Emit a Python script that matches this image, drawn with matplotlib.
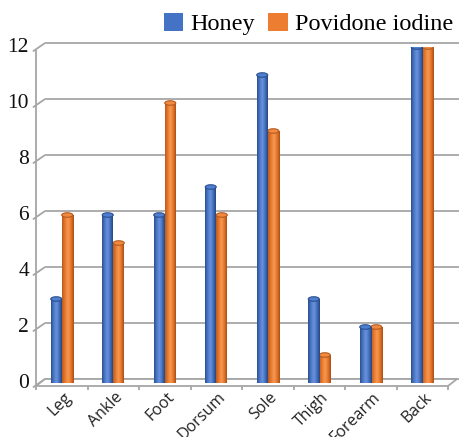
import numpy as np
import matplotlib
matplotlib.use("Agg")
import matplotlib.pyplot as plt
from matplotlib.colors import LinearSegmentedColormap
from matplotlib.patches import Ellipse, Polygon, Patch

# wound sites and counts per dressing
sites = ["Leg", "Ankle", "Foot", "Dorsum", "Sole", "Thigh", "Forearm", "Back"]
honey = [3, 6, 6, 7, 11, 3, 2, 12]
povidone = [6, 5, 10, 6, 9, 1, 2, 12]
yticks = [0, 2, 4, 6, 8, 10, 12]

W, H = 459, 437
fig = plt.figure(figsize=(W / 100, H / 100), dpi=100)
fig.patch.set_facecolor("white")

# axes box = front face of the 3d plot
x_left, x_right, y_zero, y_top = 36, 448, 383, 47
ax = fig.add_axes([x_left / W, (H - y_zero) / H, (x_right - x_left) / W, (y_zero - y_top) / H])
ax.set_xlim(-0.5, 7.5)
ax.set_ylim(0, 12)
ax.axis("off")

ux = (x_right - x_left) / 8.0      # px per category
uy = (y_zero - y_top) / 12.0       # px per unit
dxb, dyb = 9 / ux, 4 / uy          # back wall offset
dyf = -3 / uy                      # front edge offset
grid = "#a6a6a6"
kw = dict(color=grid, lw=1.3, clip_on=False, solid_capstyle="butt")

# back wall gridlines
x_far = (W - x_left) / ux - 0.5
for v in yticks:
    ax.plot([-0.5 + dxb, x_far], [v + dyb, v + dyb], zorder=1, **kw)
    ax.plot([-0.5 - 0.06, -0.5 + dxb], [v + dyf - 0.05, v + dyb], zorder=1, **kw)

# floor and front axis
floor = Polygon([(-0.5, dyf), (7.5, dyf), (7.5 + dxb, dyb), (-0.5 + dxb, dyb)],
                closed=True, facecolor="white", edgecolor=grid, lw=1.3, clip_on=False, zorder=1)
ax.add_patch(floor)
ax.plot([-0.5, -0.5], [dyf, 12 + dyf], zorder=1, **kw)
for k in range(9):
    ax.plot([-0.5 + k, -0.5 + k], [dyf, dyf - 4 / uy], zorder=1, **kw)

for v in yticks:
    ax.text(-0.5 - 7 / ux, v, str(v), ha="right", va="center", fontsize=15.5,
            family="Liberation Serif", color="#111111")

for i, s in enumerate(sites):
    ax.text(i + 0.14, dyf - 9 / uy, s, rotation=45, rotation_mode="anchor",
            ha="right", va="center", fontsize=11.5, family="Open Sans", color="#222222")

blue_cm = LinearSegmentedColormap.from_list("b", ["#2c4f8f", "#4a78c8", "#6a93dc", "#4470c0", "#27457d"])
orng_cm = LinearSegmentedColormap.from_list("o", ["#b85a1c", "#e8782c", "#f59a55", "#e8772a", "#a94f16"])
grad = np.linspace(0, 1, 64)[None, :]
bw = 11 / ux
eh = 4.5 / uy


def cylinder(xc, v, cmap, top, edge, z):
    x0, x1 = xc - bw / 2, xc + bw / 2
    ax.add_patch(Ellipse((xc, 0), bw, eh, facecolor=edge, edgecolor="none", zorder=z))
    ax.imshow(grad, cmap=cmap, extent=[x0, x1, 0, v], aspect="auto", zorder=z + 0.1,
              interpolation="bilinear")
    ax.add_patch(Ellipse((xc, v), bw, eh, facecolor=top, edgecolor=edge, lw=0.8, zorder=z + 0.2))


for i in range(len(sites)):
    cylinder(i + 0.107, povidone[i], orng_cm, "#f08a40", "#b55a1e", 3)
    cylinder(i - 0.107, honey[i], blue_cm, "#4f7fd0", "#2c4f8f", 4)

ax.set_xlim(-0.5, 7.5)
ax.set_ylim(0, 12)

handles = [Patch(facecolor="#4472C4", label="Honey"), Patch(facecolor="#ED7D31", label="Povidone iodine")]
fig.legend(handles=handles, loc="upper right", bbox_to_anchor=(1.025, 1.01), ncol=2, frameon=False,
           prop={"family": "Liberation Serif", "size": 17.5}, handlelength=0.8, handleheight=0.8,
           handletextpad=0.3, columnspacing=0.55, borderaxespad=0.3)

fig.savefig("out.png", dpi=100, facecolor="white")
